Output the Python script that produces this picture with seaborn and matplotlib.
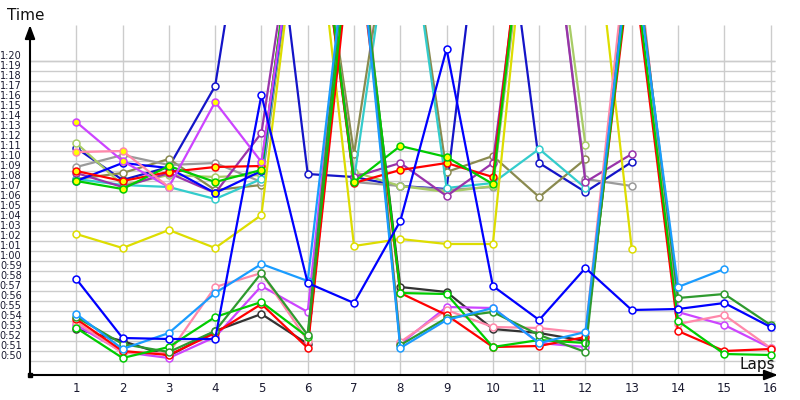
import numpy as np
import pandas as pd
import matplotlib
matplotlib.use("Agg")
import matplotlib.pyplot as plt
import seaborn as sns

# lap times in seconds, one list per driver (None = no lap)
laps = list(range(1, 17))

# slower group (white markers)
navy = [70.7, 67.5, 68.8, 76.9, 106, 68.1, 67.8, 66.9, 66.6, 105, 69.2, 66.3, 69.3, None, None, None]
olive = [67.6, 68.2, 69.6, 66.5, 67.0, 102, 70.1, 100, 68.3, 69.9, 65.8, 69.6, None, None, None, None]
gray = [68.8, 70.0, 69.0, 69.2, 67.3, 103, 67.3, 66.9, 66.5, 66.8, 105, 67.6, 66.9, None, None, None]
light_green = [71.2, 67.0, 68.0, 67.8, 68.0, 103, 68.3, 66.9, 66.3, 66.9, 106, 71.0, None, None, None, None]
cyan = [67.6, 67.0, 66.8, 65.6, 67.6, 103, 67.5, 100, 66.7, 67.2, 70.6, 66.7, None, None, None, None]
purple = [68.2, 66.8, 68.2, 66.2, 72.2, 103, 67.8, 69.2, 65.9, 69.2, 105, 67.3, 70.1, None, None, None]
yellow = [62.1, 60.7, 62.5, 60.7, 64.0, 102, 60.9, 61.6, 61.1, 61.1, 107, 102, 60.6, None, None, None]

# slower group (yellow markers)
blue_y = [67.4, 69.2, 68.7, 66.2, 68.4, 102, None, None, None, None, None, None, None, None, None, None]
red_y = [68.4, 67.4, 68.3, 68.8, 68.9, 103, 67.2, 68.5, 69.2, 67.8, 108, None, None, None, None, None]
green_y = [67.4, 66.6, 68.9, 67.3, 68.5, 104, 67.3, 70.9, 69.8, 67.1, 107, None, None, None, None, None]
magenta_y = [73.3, 69.4, 66.8, 75.3, 69.3, 101, None, None, None, None, None, None, None, None, None, None]
pink_y = [70.3, 70.4, 66.8, None, None, None, None, None, None, None, None, None, None, None, None, None]

# faster group
blue = [57.6, 51.7, 51.6, 51.6, 76.0, 57.2, 55.2, 63.4, 80.6, 56.9, 53.5, 58.7, 54.5, 54.6, 55.2, 52.8]
light_blue = [54.1, 50.6, 52.2, 56.2, 59.1, 57.4, 97, 50.7, 53.5, 54.7, 51.2, 52.3, 92, 56.8, 58.6, None]
dark_green = [53.8, 51.1, 50.3, 52.4, 58.2, 52.0, 99, 51.0, 53.7, 54.3, 52.0, 50.3, 93, 55.7, 56.1, 53.0]
green = [52.7, 49.7, 50.8, 53.8, 55.3, 51.8, 96, 56.2, 56.1, 50.8, 51.5, 51.2, 91, 53.4, 50.1, 50.0]
red = [53.6, 50.4, 50.0, 52.2, 55.1, 50.7, 94, 56.2, 54.0, 50.8, 50.9, 51.8, 90, 52.4, 50.4, 50.6]
pink = [53.3, 50.2, 50.2, 56.8, 58.2, 51.4, 100, 51.3, 54.5, 52.8, 52.7, 52.2, 95, 53.1, 54.0, 50.7]
magenta = [53.0, 50.3, 49.7, 51.8, 56.9, 54.3, 98, 51.1, 54.8, 54.7, 51.2, 50.8, 94, 54.3, 53.0, 50.7]
black = [52.6, 51.4, 49.9, 52.4, 54.1, 51.1, 95, 56.8, 56.3, 52.6, 52.2, 51.4, None, None, None, None]

drivers = [
    ("navy", navy, "#1414c8", "white"),
    ("olive", olive, "#8a8a50", "white"),
    ("gray", gray, "#9a9a9a", "white"),
    ("light_green", light_green, "#a8cc66", "white"),
    ("cyan", cyan, "#33cccc", "white"),
    ("purple", purple, "#9933aa", "white"),
    ("blue_y", blue_y, "#0000ff", "#ffff00"),
    ("red_y", red_y, "#ff0000", "#ffff00"),
    ("green_y", green_y, "#00cc00", "#ffff00"),
    ("magenta_y", magenta_y, "#cc44ff", "#ffff00"),
    ("pink_y", pink_y, "#ff88aa", "#ffff00"),
    ("yellow", yellow, "#dddd00", "white"),
    ("black", black, "#333333", "white"),
    ("magenta", magenta, "#cc44ff", "white"),
    ("pink", pink, "#ff88aa", "white"),
    ("red", red, "#ff0000", "white"),
    ("green", green, "#00cc00", "white"),
    ("dark_green", dark_green, "#2e9a2e", "white"),
    ("light_blue", light_blue, "#1a9cff", "white"),
    ("blue", blue, "#0000ff", "white"),
]

y_ticks = list(range(50, 81))
y_labels = [f"{v // 60}:{v % 60:02d}" for v in y_ticks]

sns.set_style("white")
plt.rcParams['font.family'] = ['DejaVu Sans']

fig = plt.figure(figsize=(8, 4), dpi=100)
ax = fig.add_axes([30 / 800, 25 / 400, 748 / 800, 350 / 400])
ax.set_xlim(0, 16.16)
ax.set_ylim(48, 83)

# grid
ax.vlines(laps, 48, 83, color="#cccccc", lw=1, zorder=0)
ax.hlines(np.array(y_ticks) - 0.55, 0, 16.1, color="#cccccc", lw=1, zorder=0)
ax.hlines([79.45], 0, 16.1, color="#cccccc", lw=1, zorder=0)

for name, vals, col, face in drivers:
    d = pd.DataFrame({"lap": laps, "time": vals}).dropna()
    sns.lineplot(data=d, x="lap", y="time", color=col, linewidth=1.6,
                 marker="o", markersize=5, markerfacecolor=face,
                 markeredgecolor=col, markeredgewidth=1.1,
                 estimator=None, ax=ax)

for s in ax.spines.values():
    s.set_visible(False)

# axes with arrows
ax.annotate("", xy=(0, 83), xytext=(0, 48), annotation_clip=False,
            arrowprops=dict(arrowstyle="-|>,head_length=0.8,head_width=0.3",
                            color="black", lw=1.5, shrinkA=0, shrinkB=0, mutation_scale=10))
ax.annotate("", xy=(16.16, 48), xytext=(0, 48), annotation_clip=False,
            arrowprops=dict(arrowstyle="-|>,head_length=0.8,head_width=0.3",
                            color="black", lw=1.5, shrinkA=0, shrinkB=0, mutation_scale=10))
ax.plot([0], [48], marker="s", ms=3, color="black", clip_on=False)

ax.set_xticks(laps)
ax.set_xticklabels([str(l) for l in laps])
ax.set_yticks(y_ticks)
ax.set_yticklabels(y_labels)
ax.tick_params(axis="y", length=0, pad=6, labelsize=7, labelcolor="#1a1a30")
ax.tick_params(axis="x", length=0, pad=5, labelsize=8.5, labelcolor="#1a1a30")
ax.set_xlabel("")
ax.set_ylabel("")

fig.text(7 / 800, 1 - 15 / 400, "Time", fontsize=11, va="center", ha="left", color="#111111")
fig.text(775 / 800, 1 - 364 / 400, "Laps", fontsize=11, va="center", ha="right", color="#111111")

fig.savefig("out.png", dpi=100)
